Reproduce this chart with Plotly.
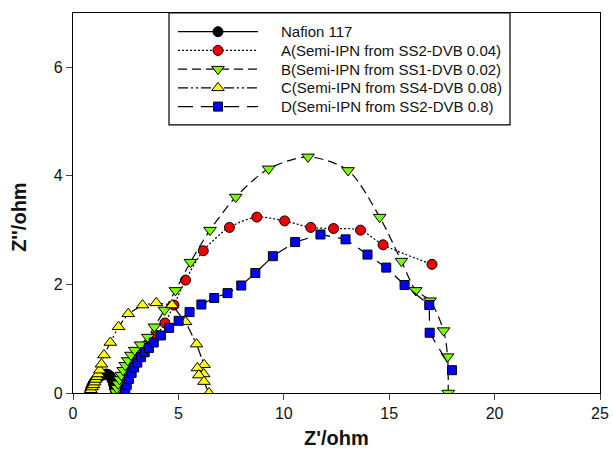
import plotly.graph_objects as go

# Nyquist data (Z' real part, Z'' imaginary part), ohm
nafion_x = [0.80, 0.84, 0.89, 0.95, 1.02, 1.10, 1.19, 1.29, 1.39, 1.49, 1.58, 1.66, 1.74, 1.81, 1.87, 1.92, 1.96, 2.00, 2.03]
nafion_y = [0.02, 0.07, 0.12, 0.17, 0.21, 0.25, 0.28, 0.31, 0.33, 0.34, 0.35, 0.34, 0.32, 0.28, 0.23, 0.17, 0.11, 0.06, 0.02]

a_x = [2.42, 2.50, 2.60, 2.72, 2.86, 3.02, 3.22, 3.50, 3.95, 4.36, 4.79, 5.34, 6.18, 7.42, 8.72, 10.04, 11.28, 12.36, 13.64, 14.71, 17.03]
a_y = [0.02, 0.12, 0.24, 0.36, 0.48, 0.60, 0.72, 0.86, 1.06, 1.29, 1.62, 2.08, 2.62, 3.05, 3.24, 3.17, 3.05, 3.03, 3.00, 2.73, 2.37]

b_x = [2.02, 2.08, 2.14, 2.21, 2.29, 2.38, 2.48, 2.60, 2.75, 2.93, 3.20, 3.55, 3.86, 4.34, 4.86, 5.57, 6.50, 7.72, 9.28, 11.15, 13.05, 14.55, 15.58, 16.26, 16.94, 17.58, 17.77, 17.80]
b_y = [0.02, 0.09, 0.17, 0.25, 0.33, 0.42, 0.51, 0.60, 0.70, 0.79, 0.89, 1.03, 1.22, 1.53, 1.89, 2.41, 3.00, 3.61, 4.13, 4.35, 4.10, 3.24, 2.43, 1.89, 1.70, 1.15, 0.67, 0.00]

c_x = [0.80, 0.85, 0.91, 0.97, 1.03, 1.08, 1.14, 1.20, 1.27, 1.35, 1.47, 1.77, 2.16, 2.62, 3.30, 3.95, 4.70, 5.34, 5.86, 6.22, 5.90, 6.20, 5.97, 6.21, 6.45]
c_y = [0.02, 0.06, 0.11, 0.15, 0.20, 0.25, 0.30, 0.35, 0.42, 0.53, 0.70, 0.93, 1.22, 1.46, 1.62, 1.66, 1.62, 1.31, 0.90, 0.52, 0.46, 0.35, 0.33, 0.21, 0.00]

d_x = [2.48, 2.55, 2.65, 2.78, 2.90, 3.05, 3.22, 3.40, 3.60, 3.83, 4.17, 4.56, 5.01, 5.53, 6.09, 6.70, 7.33, 7.98, 8.65, 9.48, 10.54, 11.74, 12.93, 13.97, 14.86, 15.73, 16.90, 16.92, 17.98]
d_y = [0.04, 0.15, 0.26, 0.37, 0.47, 0.56, 0.66, 0.75, 0.83, 0.93, 1.06, 1.20, 1.33, 1.49, 1.63, 1.75, 1.84, 1.98, 2.21, 2.52, 2.78, 2.92, 2.83, 2.55, 2.31, 1.99, 1.62, 1.11, 0.42]

series_names = [
    "Nafion 117",
    "A(Semi-IPN from SS2-DVB 0.04)",
    "B(Semi-IPN from SS1-DVB 0.02)",
    "C(Semi-IPN from SS4-DVB 0.08)",
    "D(Semi-IPN from SS2-DVB 0.8)",
]

x_ticks = [0, 5, 10, 15, 20, 25]
y_ticks = [0, 2, 4, 6]

FONT = "Liberation Sans, Arial, sans-serif"
W, H = 613, 449
ML, MR, MT, MB = 73, 13, 13, 55.5

styles = [
    dict(x=nafion_x, y=nafion_y, symbol="circle", color="#000000", size=10, dash="solid", shape="linear"),
    dict(x=a_x, y=a_y, symbol="circle", color="#ee0000", size=10, dash="2px,2px", shape="spline"),
    dict(x=b_x, y=b_y, symbol="triangle-down", color="#7cfc00", size=11, dash="9px,5px", shape="spline"),
    dict(x=c_x, y=c_y, symbol="triangle-up", color="#ffff00", size=11, dash="10px,3px,2px,3px,2px,3px", shape="linear"),
    dict(x=d_x, y=d_y, symbol="square", color="#0000ff", size=9, dash="15px,8px", shape="linear"),
]

fig = go.Figure()
for name, s in zip(series_names, styles):
    fig.add_trace(go.Scatter(
        x=s["x"], y=s["y"], name=name, mode="lines+markers", showlegend=False,
        line=dict(color="#000000", width=1.2, dash=s["dash"], shape=s["shape"], smoothing=0.8),
        marker=dict(symbol=s["symbol"], size=s["size"], color=s["color"],
                    line=dict(color="#000000", width=1)),
    ))

# Key box drawn on a pixel-unit overlay axis pair (x2/y2 span the plot area)
key_left, key_right, key_top, key_bottom = 169, 510, 13, 125
key_row0, key_row_step = 31.7, 18.75
key_line_x0, key_line_x1, key_text_x = 178, 258, 279

for i, (name, s) in enumerate(zip(series_names, styles)):
    ry = key_row0 + key_row_step * i
    fig.add_trace(go.Scatter(
        x=[key_line_x0, key_line_x1], y=[ry, ry], mode="lines", showlegend=False,
        xaxis="x2", yaxis="y2", hoverinfo="skip",
        line=dict(color="#000000", width=1.2, dash=s["dash"]),
    ))
    fig.add_trace(go.Scatter(
        x=[(key_line_x0 + key_line_x1) / 2], y=[ry], mode="markers", showlegend=False,
        xaxis="x2", yaxis="y2", hoverinfo="skip",
        marker=dict(symbol=s["symbol"], size=s["size"], color=s["color"],
                    line=dict(color="#000000", width=1)),
    ))

annotations = [
    dict(text=name, xref="x2", yref="y2", x=key_text_x, y=key_row0 + key_row_step * i,
         xanchor="left", yanchor="middle", showarrow=False,
         font=dict(family=FONT, size=15, color="#111111"))
    for i, name in enumerate(series_names)
]
annotations += [
    dict(text="<b>Z'/ohm</b>", xref="paper", yref="paper", x=0.5, y=-0.1196,
         xanchor="center", yanchor="middle", showarrow=False,
         font=dict(family=FONT, size=20, color="#111111")),
    dict(text="<b>Z''/ohm</b>", xref="paper", yref="paper", x=-0.104, y=0.464,
         xanchor="center", yanchor="middle", showarrow=False, textangle=-90,
         font=dict(family=FONT, size=20, color="#111111")),
]

fig.update_layout(
    width=W, height=H,
    margin=dict(l=ML, r=MR, t=MT, b=MB, autoexpand=False),
    paper_bgcolor="white", plot_bgcolor="white",
    font=dict(family=FONT, color="#111111"),
    showlegend=False,
    xaxis=dict(
        range=[0, 25], tickvals=x_ticks, ticks="outside", ticklen=6, tickwidth=1.2,
        showline=True, linecolor="#000000", linewidth=1.3, mirror=True,
        showgrid=False, zeroline=False, automargin=False,
        tickfont=dict(family=FONT, size=16, color="#111111"),
    ),
    yaxis=dict(
        range=[0, 7], tickvals=y_ticks, ticks="outside", ticklen=6, tickwidth=1.2,
        showline=True, linecolor="#000000", linewidth=1.3, mirror=True,
        showgrid=False, zeroline=False, automargin=False,
        tickfont=dict(family=FONT, size=16, color="#111111"),
    ),
    xaxis2=dict(overlaying="x", range=[ML, W - MR], visible=False, fixedrange=True),
    yaxis2=dict(overlaying="y", range=[H - MB, MT], visible=False, fixedrange=True),
    shapes=[dict(type="rect", xref="x2", yref="y2", x0=key_left, x1=key_right,
                 y0=key_top, y1=key_bottom, line=dict(color="#000000", width=1.2),
                 fillcolor="rgba(0,0,0,0)", layer="above")],
    annotations=annotations,
)

fig.write_html("out.html")
